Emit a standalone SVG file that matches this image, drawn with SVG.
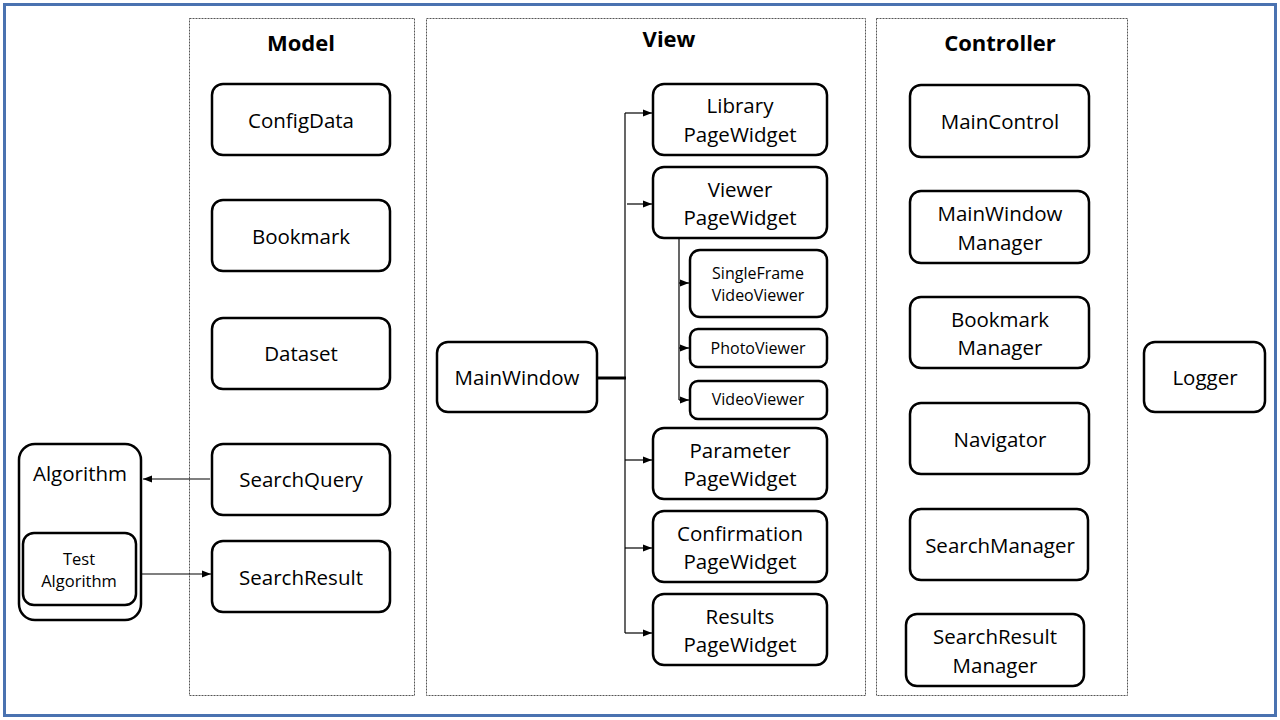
<svg xmlns="http://www.w3.org/2000/svg" width="1280" height="720" viewBox="0 0 1280 720">
<defs>
<marker id="ah" viewBox="0 0 10 10" refX="10" refY="5" markerWidth="9" markerHeight="9" markerUnits="userSpaceOnUse" orient="auto">
<path d="M0,1 L10,5 L0,9 z" fill="#000"/>
</marker>
<style>
.frame{fill:#fff;stroke:#4a72b0;stroke-width:3}
.panel{fill:none;stroke:#555;stroke-width:1;stroke-dasharray:2 1}
.box{fill:#fff;stroke:#000;stroke-width:2.5}
.t{font-family:"Open Sans","Liberation Sans",sans-serif;font-size:20.5px;fill:#000;text-anchor:middle}
.s{font-family:"Open Sans","Liberation Sans",sans-serif;font-size:16px;fill:#000;text-anchor:middle}
.s2{font-family:"Open Sans","Liberation Sans",sans-serif;font-size:16.5px;fill:#000;text-anchor:middle}
.h{font-family:"Open Sans","Liberation Sans",sans-serif;font-size:22px;font-weight:bold;fill:#000;text-anchor:middle}
.c{fill:none;stroke:#000;stroke-width:1.2}
</style>
</defs>
<rect x="0" y="0" width="1280" height="720" fill="#fff"/>
<rect class="frame" x="4.5" y="4.5" width="1271" height="711"/>

<g id="model-panel">
<rect class="panel" x="189.5" y="18.5" width="225" height="677"/>
<text class="h" x="301" y="51">Model</text>
</g>
<g id="view-panel">
<rect class="panel" x="426.5" y="18.5" width="439" height="677"/>
<text class="h" x="669" y="47">View</text>
</g>
<g id="controller-panel">
<rect class="panel" x="876.5" y="18.5" width="251" height="677"/>
<text class="h" x="1000" y="51">Controller</text>
</g>

<g id="ConfigData"><rect class="box" x="212" y="84" width="178" height="71" rx="11"/><text class="t" x="301" y="128">ConfigData</text></g>
<g id="Bookmark"><rect class="box" x="212" y="200" width="178" height="71" rx="11"/><text class="t" x="301" y="244">Bookmark</text></g>
<g id="Dataset"><rect class="box" x="212" y="318" width="178" height="71" rx="11"/><text class="t" x="301" y="361">Dataset</text></g>
<g id="SearchQuery"><rect class="box" x="212" y="444" width="178" height="71" rx="11"/><text class="t" x="301" y="487">SearchQuery</text></g>
<g id="SearchResult"><rect class="box" x="212" y="541" width="178" height="71" rx="11"/><text class="t" x="301" y="585">SearchResult</text></g>

<g id="Algorithm"><rect class="box" x="19" y="444" width="122" height="176" rx="16"/><text class="t" x="80" y="481">Algorithm</text></g>
<g id="TestAlgorithm"><rect class="box" x="23" y="533" width="113" height="72" rx="11"/><text class="s2" x="79" y="565">Test</text><text class="s2" x="79" y="587">Algorithm</text></g>

<g id="MainWindow"><rect class="box" x="437" y="342" width="160" height="70" rx="11"/><text class="t" x="517" y="385">MainWindow</text></g>
<g id="LibraryPageWidget"><rect class="box" x="653" y="84" width="174" height="71" rx="11"/><text class="t" x="740" y="113">Library</text><text class="t" x="740" y="142">PageWidget</text></g>
<g id="ViewerPageWidget"><rect class="box" x="653" y="167" width="174" height="71" rx="11"/><text class="t" x="740" y="197">Viewer</text><text class="t" x="740" y="225">PageWidget</text></g>
<g id="SingleFrameVideoViewer"><rect class="box" x="690" y="250" width="137" height="67" rx="10"/><text class="s" x="758" y="279">SingleFrame</text><text class="s" x="758" y="301">VideoViewer</text></g>
<g id="PhotoViewer"><rect class="box" x="690" y="329" width="137" height="38" rx="8"/><text class="s" x="758" y="354">PhotoViewer</text></g>
<g id="VideoViewer"><rect class="box" x="690" y="381" width="137" height="38" rx="8"/><text class="s" x="758" y="405">VideoViewer</text></g>
<g id="ParameterPageWidget"><rect class="box" x="653" y="428" width="174" height="71" rx="11"/><text class="t" x="740" y="458">Parameter</text><text class="t" x="740" y="486">PageWidget</text></g>
<g id="ConfirmationPageWidget"><rect class="box" x="653" y="511" width="174" height="71" rx="11"/><text class="t" x="740" y="541">Confirmation</text><text class="t" x="740" y="569">PageWidget</text></g>
<g id="ResultsPageWidget"><rect class="box" x="653" y="594" width="174" height="71" rx="11"/><text class="t" x="740" y="624">Results</text><text class="t" x="740" y="652">PageWidget</text></g>

<g id="MainControl"><rect class="box" x="910" y="85" width="179" height="72" rx="11"/><text class="t" x="1000" y="129">MainControl</text></g>
<g id="MainWindowManager"><rect class="box" x="910" y="191" width="179" height="72" rx="11"/><text class="t" x="1000" y="221">MainWindow</text><text class="t" x="1000" y="250">Manager</text></g>
<g id="BookmarkManager"><rect class="box" x="910" y="297" width="179" height="71" rx="11"/><text class="t" x="1000" y="327">Bookmark</text><text class="t" x="1000" y="355">Manager</text></g>
<g id="Navigator"><rect class="box" x="910" y="403" width="179" height="71" rx="11"/><text class="t" x="1000" y="447">Navigator</text></g>
<g id="SearchManager"><rect class="box" x="910" y="509" width="178" height="71" rx="11"/><text class="t" x="1000" y="553">SearchManager</text></g>
<g id="SearchResultManager"><rect class="box" x="906" y="614" width="178" height="72" rx="11"/><text class="t" x="995" y="644">SearchResult</text><text class="t" x="995" y="673">Manager</text></g>

<g id="Logger"><rect class="box" x="1144" y="342" width="121" height="70" rx="11"/><text class="t" x="1205" y="385">Logger</text></g>

<g id="connectors">
<line class="c" x1="210" y1="479" x2="143" y2="479" marker-end="url(#ah)"/>
<line class="c" x1="142" y1="574" x2="211" y2="574" marker-end="url(#ah)"/>
<line x1="597" y1="378" x2="626" y2="378" stroke="#000" stroke-width="3"/>
<line class="c" x1="625" y1="113" x2="625" y2="633"/>
<line class="c" x1="625" y1="113" x2="652" y2="113" marker-end="url(#ah)"/>
<line class="c" x1="627" y1="204" x2="652" y2="204" marker-end="url(#ah)"/>
<line class="c" x1="625" y1="460" x2="652" y2="460" marker-end="url(#ah)"/>
<line class="c" x1="625" y1="548" x2="652" y2="548" marker-end="url(#ah)"/>
<line class="c" x1="625" y1="633" x2="652" y2="633" marker-end="url(#ah)"/>
<line class="c" x1="679" y1="238" x2="679" y2="400"/>
<line class="c" x1="679" y1="283" x2="689" y2="283" marker-end="url(#ah)"/>
<line class="c" x1="679" y1="348" x2="689" y2="348" marker-end="url(#ah)"/>
<line class="c" x1="679" y1="400" x2="689" y2="400" marker-end="url(#ah)"/>
</g>
</svg>
